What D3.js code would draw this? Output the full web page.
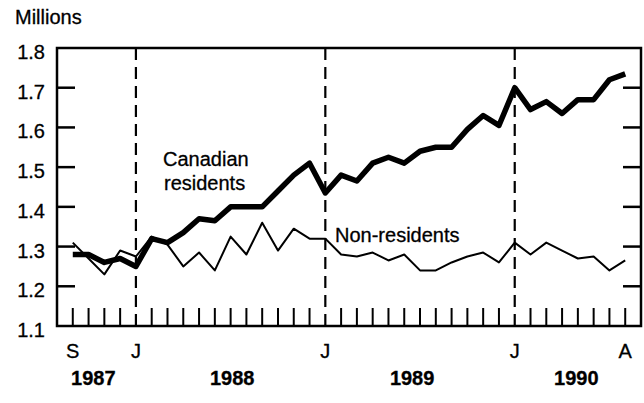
<!DOCTYPE html>
<html>
<head>
<meta charset="utf-8">
<script src="https://cdn.jsdelivr.net/npm/d3@7"></script>
<style>
  body { margin: 0; background: #fff; }
  text { font-family: "Liberation Sans", Arial, Helvetica, sans-serif; fill: #000; stroke: #000; stroke-width: 0.3px; }
</style>
</head>
<body>
<div id="chart"></div>
<script>
// monthly, Sep 1987 .. Aug 1990
var months = ["1987-09","1987-10","1987-11","1987-12",
  "1988-01","1988-02","1988-03","1988-04","1988-05","1988-06","1988-07","1988-08","1988-09","1988-10","1988-11","1988-12",
  "1989-01","1989-02","1989-03","1989-04","1989-05","1989-06","1989-07","1989-08","1989-09","1989-10","1989-11","1989-12",
  "1990-01","1990-02","1990-03","1990-04","1990-05","1990-06","1990-07","1990-08"];

var canadian = [1.28,1.28,1.26,1.27,1.25,1.32,1.31,1.335,1.37,1.365,1.40,1.40,1.40,1.44,1.48,1.51,
  1.435,1.48,1.465,1.51,1.525,1.51,1.54,1.55,1.55,1.595,1.63,1.605,1.70,1.645,1.665,1.635,1.67,1.67,1.72,1.735];

var nonResidents = [1.31,1.27,1.23,1.29,1.275,1.325,1.305,1.25,1.285,1.24,1.325,1.28,1.36,1.29,1.345,1.32,
  1.32,1.28,1.275,1.285,1.265,1.28,1.24,1.24,1.26,1.275,1.285,1.26,1.31,1.28,1.31,1.29,1.27,1.275,1.24,1.265];

var yTicks = [1.1,1.2,1.3,1.4,1.5,1.6,1.7,1.8];
var monthLetters = {"1987-09":"S","1988-01":"J","1989-01":"J","1990-01":"J","1990-08":"A"};
var januaries = ["1988-01","1989-01","1990-01"];
var yearLabels = ["1987","1988","1989","1990"];
var yearCentres = [1.3, 10.1, 21.5, 31.9];   // in month index

var svgWidth = 644, svgHeight = 403;
var margin = {top: 48, left: 57, bottom: 77, right: 3};
var chartwidth = svgWidth - margin.left - margin.right,
    chartheight = svgHeight - margin.top - margin.bottom;

var svg = d3.select("#chart")
  .append("svg")
    .attr("width", svgWidth)
    .attr("height", svgHeight)
  .append("g")
    .attr("transform", "translate(" + margin.left + "," + margin.top + ")");

var x = d3.scaleLinear()
  .domain([-1, months.length])
  .range([0, chartwidth]);

var y = d3.scaleLinear()
  .domain([1.1, 1.8])
  .range([chartheight, 0]);

// month ticks along the bottom (januaries are dashed full-height lines)
svg.selectAll(".mtick")
  .data(months.filter(function(m){ return januaries.indexOf(m) < 0; }))
  .enter().append("line")
    .attr("class", "mtick")
    .attr("x1", function(m){ return x(months.indexOf(m)); })
    .attr("x2", function(m){ return x(months.indexOf(m)); })
    .attr("y1", chartheight)
    .attr("y2", chartheight - 18)
    .attr("stroke", "#000")
    .attr("stroke-width", 2);

svg.selectAll(".jan")
  .data(januaries)
  .enter().append("line")
    .attr("class", "jan")
    .attr("x1", function(m){ return x(months.indexOf(m)); })
    .attr("x2", function(m){ return x(months.indexOf(m)); })
    .attr("y1", 0)
    .attr("y2", chartheight)
    .attr("stroke", "#000")
    .attr("stroke-width", 2.2)
    .attr("stroke-dasharray", "12,7");

// y ticks, left and right inside the frame
var inner = yTicks.filter(function(v){ return v > 1.1 && v < 1.8; });
svg.selectAll(".ltick")
  .data(inner)
  .enter().append("line")
    .attr("x1", 0).attr("x2", 18)
    .attr("y1", function(d){ return y(d); })
    .attr("y2", function(d){ return y(d); })
    .attr("stroke", "#000").attr("stroke-width", 2.5);
svg.selectAll(".rtick")
  .data(inner)
  .enter().append("line")
    .attr("x1", chartwidth).attr("x2", chartwidth - 18)
    .attr("y1", function(d){ return y(d); })
    .attr("y2", function(d){ return y(d); })
    .attr("stroke", "#000").attr("stroke-width", 2.5);

svg.selectAll(".ylab")
  .data(yTicks)
  .enter().append("text")
    .attr("x", -12)
    .attr("y", function(d){ return y(d) + 4; })
    .attr("dy", "0.35em")
    .attr("text-anchor", "end")
    .attr("font-size", "20px")
    .text(function(d){ return d.toFixed(1); });

// frame
svg.append("rect")
  .attr("x", 0).attr("y", 0)
  .attr("width", chartwidth).attr("height", chartheight)
  .attr("fill", "none")
  .attr("stroke", "#000")
  .attr("stroke-width", 2.5);

// lines
var line = d3.line()
  .x(function(d, i){ return x(i); })
  .y(function(d){ return y(d); });

svg.append("path")
  .datum(nonResidents)
  .attr("d", line)
  .attr("fill", "none")
  .attr("stroke", "#000")
  .attr("stroke-width", 2)
  .attr("stroke-linejoin", "round");

svg.append("path")
  .datum(canadian)
  .attr("d", line)
  .attr("fill", "none")
  .attr("stroke", "#000")
  .attr("stroke-width", 5.5)
  .attr("stroke-linejoin", "round");

// x labels
svg.selectAll(".mlab")
  .data(Object.keys(monthLetters))
  .enter().append("text")
    .attr("x", function(m){ return x(months.indexOf(m)); })
    .attr("y", chartheight + 32)
    .attr("text-anchor", "middle")
    .attr("font-size", "20px")
    .text(function(m){ return monthLetters[m]; });

svg.selectAll(".ylabel")
  .data(yearLabels)
  .enter().append("text")
    .attr("x", function(d, i){ return x(yearCentres[i]); })
    .attr("y", chartheight + 59)
    .attr("text-anchor", "middle")
    .attr("font-size", "20px")
    .attr("font-weight", "bold")
    .text(function(d){ return d; });

// titles
svg.append("text")
  .attr("x", 15 - margin.left)
  .attr("y", 24 - margin.top)
  .attr("font-size", "20px")
  .text("Millions");

svg.append("text")
  .attr("x", 163 - margin.left)
  .attr("y", 166 - margin.top)
  .attr("font-size", "20px")
  .text("Canadian");
svg.append("text")
  .attr("x", 164 - margin.left)
  .attr("y", 190 - margin.top)
  .attr("font-size", "20px")
  .text("residents");

svg.append("text")
  .attr("x", 335 - margin.left)
  .attr("y", 242 - margin.top)
  .attr("font-size", "20px")
  .text("Non-residents");
</script>
</body>
</html>
